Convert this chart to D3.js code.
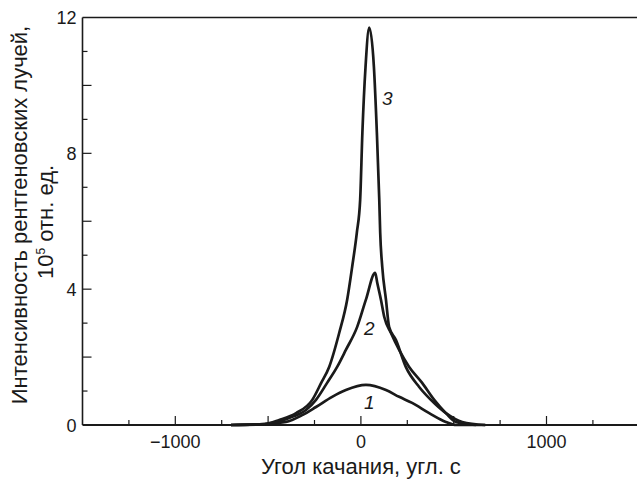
<!DOCTYPE html>
<html>
<head>
<meta charset="utf-8">
<script src="https://cdn.jsdelivr.net/npm/d3@7"></script>
<style>
  body { margin: 0; background: #fff; }
  text { font-family: "Liberation Sans", Arial, sans-serif; fill: #1a1a1a; }
</style>
</head>
<body>
<svg width="637" height="481"></svg>
<script>
// Rocking curves (angle in arc sec, intensity in 10^5 rel. units)
const curve1X = [-700, -520, -404, -316, -242, -155, -81, 27, 135, 206, 276, 368, 458, 512, 670];
const curve1Y = [0, 0.03, 0.09, 0.29, 0.53, 0.83, 1.03, 1.18, 1.03, 0.83, 0.65, 0.35, 0.09, 0, 0];

const curve2X = [-700, -520, -386, -296, -242, -182, -128, -81, -20, 27, 77, 88, 108, 126, 162, 206, 260, 330, 395, 458, 512, 620];
const curve2Y = [0, 0.02, 0.21, 0.44, 0.74, 1.24, 1.71, 2.21, 2.89, 3.69, 4.48, 4.19, 3.69, 3.18, 2.71, 2.21, 1.71, 1.24, 0.74, 0.35, 0.09, 0];

const curve3X = [-700, -520, -440, -349, -262, -214, -171, -117, -74, -47, -22, -4, 8, 25, 45, 70, 86, 99, 104, 115, 135, 152, 189, 242, 314, 377, 458, 546, 670];
const curve3Y = [0, 0.03, 0.15, 0.35, 0.74, 1.24, 1.71, 2.71, 3.69, 4.66, 5.66, 6.63, 8.61, 10.55, 11.7, 10.55, 8.61, 6.63, 5.66, 4.66, 3.69, 2.89, 2.5, 1.71, 1.12, 0.74, 0.35, 0.09, 0];

const curveLabels = ["1", "2", "3"];
const labelX = [45, 45, 142];
const labelY = [0.47, 2.65, 9.43];

const xTicks = [-1000, 0, 1000];
const yTicks = [0, 4, 8, 12];

const svg = d3.select("svg");
const margin = {left: 82.5, top: 17.5, bottom: 425};

const x = d3.scaleLinear().domain([-1500, 1500]).range([margin.left, margin.left + 3000 * 0.1856]);
const y = d3.scaleLinear().domain([0, 12]).range([margin.bottom, margin.top]);

// frame: top line and left axis
svg.append("line")
    .attr("x1", x(-1500)).attr("x2", 637)
    .attr("y1", y(12)).attr("y2", y(12))
    .attr("stroke", "#1a1a1a").attr("stroke-width", 1.3);

// minor/major ticks inside the plot
const xMinor = d3.range(-1250, 1500, 250);
svg.append("g").selectAll("line")
    .data(xMinor)
    .join("line")
    .attr("x1", d => x(d)).attr("x2", d => x(d))
    .attr("y1", y(0))
    .attr("y2", d => y(0) - (d % 500 === 0 ? 9 : 5))
    .attr("stroke", "#1a1a1a").attr("stroke-width", 1.2);

const yMinor = d3.range(1, 12, 1);
svg.append("g").selectAll("line")
    .data(yMinor)
    .join("line")
    .attr("y1", d => y(d)).attr("y2", d => y(d))
    .attr("x1", x(-1500))
    .attr("x2", d => x(-1500) + (d % 2 === 0 ? 9 : 5))
    .attr("stroke", "#1a1a1a").attr("stroke-width", 1.2);

svg.append("line")
    .attr("x1", x(-1500)).attr("x2", x(-1500))
    .attr("y1", y(12)).attr("y2", y(0))
    .attr("stroke", "#1a1a1a").attr("stroke-width", 1.6);

svg.append("line")
    .attr("x1", x(-1500)).attr("x2", 637)
    .attr("y1", y(0)).attr("y2", y(0))
    .attr("stroke", "#1a1a1a").attr("stroke-width", 2);

// tick labels
svg.append("g").selectAll("text")
    .data(xTicks)
    .join("text")
    .attr("x", d => x(d))
    .attr("y", y(0) + 23)
    .attr("text-anchor", "middle")
    .attr("font-size", 18)
    .text(d => d < 0 ? "\u2212" + Math.abs(d) : d);

svg.append("g").selectAll("text")
    .data(yTicks)
    .join("text")
    .attr("x", x(-1500) - 6)
    .attr("y", d => y(d) + 6.5)
    .attr("text-anchor", "end")
    .attr("font-size", 18)
    .text(d => d);

// axis titles
svg.append("text")
    .attr("x", x(0))
    .attr("y", 474)
    .attr("text-anchor", "middle")
    .attr("font-size", 22)
    .text("Угол качания, угл. с");

svg.append("text")
    .attr("transform", "translate(27,215) rotate(-90)")
    .attr("text-anchor", "middle")
    .attr("font-size", 22)
    .text("Интенсивность рентгеновских лучей,");

const yl2 = svg.append("text")
    .attr("transform", "translate(53,222) rotate(-90)")
    .attr("text-anchor", "middle")
    .attr("font-size", 22);
yl2.append("tspan").text("10");
yl2.append("tspan").attr("dy", -8).attr("font-size", 12).text("5");
yl2.append("tspan").attr("dy", 8).text(" отн. ед.");

// curves
const line = d3.line()
    .x(d => x(d[0]))
    .y(d => y(d[1]))
    .curve(d3.curveMonotoneX);

const series = [
    d3.zip(curve1X, curve1Y),
    d3.zip(curve2X, curve2Y),
    d3.zip(curve3X, curve3Y)
];

svg.append("g").selectAll("path")
    .data(series)
    .join("path")
    .attr("d", line)
    .attr("fill", "none")
    .attr("stroke", "#1a1a1a")
    .attr("stroke-width", 2.7)
    .attr("stroke-linejoin", "round");

svg.append("g").selectAll("text")
    .data(curveLabels)
    .join("text")
    .attr("x", (d, i) => x(labelX[i]))
    .attr("y", (d, i) => y(labelY[i]))
    .attr("text-anchor", "middle")
    .attr("font-size", 19)
    .attr("font-style", "italic")
    .text(d => d);
</script>
</body>
</html>
